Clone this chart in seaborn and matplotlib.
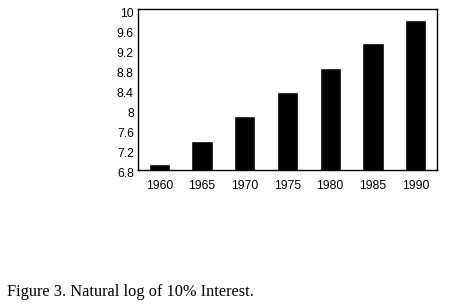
import matplotlib
matplotlib.use("Agg")
import matplotlib.pyplot as plt
import matplotlib.transforms as mtransforms
import seaborn as sns
import pandas as pd

years = ["1960", "1965", "1970", "1975", "1980", "1985", "1990"]
values = [6.91, 7.37, 7.87, 8.35, 8.83, 9.32, 9.79]
yticks = [6.8, 7.2, 7.6, 8, 8.4, 8.8, 9.2, 9.6, 10]
ytick_labels = ["6.8", "7.2", "7.6", "8", "8.4", "8.8", "9.2", "9.6", "10"]
caption = "Figure 3. Natural log of 10% Interest."

sns.set_style("white")
plt.rcParams['font.family'] = ['Liberation Sans', 'DejaVu Sans']

df = pd.DataFrame({"year": years, "value": values})

fig = plt.figure(figsize=(4.53, 3.04), dpi=100)
ax = fig.add_axes([138/453, 1 - 170/304, (437-138)/453, (170-9.3)/304])
sns.barplot(data=df, x="year", y="value", color="black", width=0.5,
            saturation=1, ax=ax, bottom=0)
ax.set_ylim(6.8, 10)
ax.set_yticks(yticks)
ax.set_yticklabels(ytick_labels)
ax.set_xlim(-0.5, 6.5)
ax.set_xlabel("")
ax.set_ylabel("")
ax.tick_params(axis="both", length=0, labelsize=8.8, colors="black")
ax.tick_params(axis="x", pad=7)
ax.tick_params(axis="y", pad=3)
offset = mtransforms.ScaledTranslation(0, -3/100, fig.dpi_scale_trans)
for lab in ax.get_yticklabels():
    lab.set_transform(lab.get_transform() + offset)
for s in ax.spines.values():
    s.set_visible(True)
    s.set_color("black")
    s.set_linewidth(1)

fig.text(7/453, 1 - 292/304, caption, family=["Liberation Serif"], fontsize=11.8,
         va="center", ha="left", color="black")
fig.savefig("out.png", dpi=100)
